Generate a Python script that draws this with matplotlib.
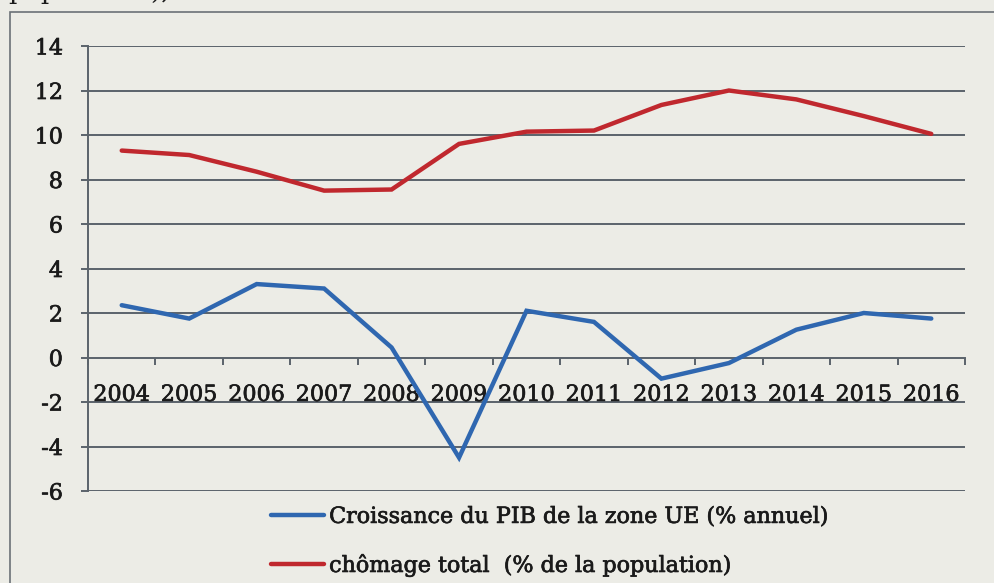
import matplotlib
matplotlib.use('Agg')
import matplotlib.pyplot as plt
import matplotlib.patheffects as pe
from matplotlib.patches import Rectangle

# Data
years = ['2004', '2005', '2006', '2007', '2008', '2009', '2010',
         '2011', '2012', '2013', '2014', '2015', '2016']
pib = [2.35, 1.75, 3.3, 3.1, 0.45, -4.5, 2.1, 1.6, -0.95, -0.25, 1.25, 2.0, 1.75]
chomage = [9.3, 9.1, 8.35, 7.5, 7.55, 9.6, 10.15, 10.2, 11.35, 12.0, 11.6, 10.85, 10.05]
yticks = [-6, -4, -2, 0, 2, 4, 6, 8, 10, 12, 14]

lbl_pib = 'Croissance du PIB de la zone UE (% annuel)'
lbl_cho = 'chômage total  (% de la population)'

bg = '#ecece6'
grid_col = '#5b636b'
txt_col = '#1a1a1a'
blue = '#2f67b0'
red = '#c0282e'

W, H = 994, 583
plt.rcParams['font.family'] = 'DejaVu Serif'
fig = plt.figure(figsize=(W / 100, H / 100), dpi=100, facecolor=bg)
thick = [pe.withStroke(linewidth=0.5, foreground=txt_col)]

# outer chart frame (runs off the page at right/bottom)
fig.patches.append(Rectangle((10 / W, -0.05), 1.1, 1 - 12 / H + 0.05,
                             transform=fig.transFigure, fill=False,
                             edgecolor='#6b7177', linewidth=1.2))
# tail of the caption line above, cut by the scan
fig.text(8 / W, 1 + 1 / H, 'population),', fontsize=19, va='baseline',
         ha='left', color=txt_col)

ax = fig.add_axes([88 / W, 1 - 491 / H, (965 - 88) / W, (491 - 46) / H])
ax.set_facecolor('none')

x = list(range(len(years)))
l1, = ax.plot(x, pib, color=blue, lw=3.2, solid_capstyle='round', solid_joinstyle='miter', zorder=3)
l2, = ax.plot(x, chomage, color=red, lw=3.2, solid_capstyle='round', solid_joinstyle='miter', zorder=3)

ax.set_xlim(-0.5, len(years) - 0.5)
ax.set_ylim(-6, 14)

for v in yticks:
    if v != 0:
        ax.axhline(v, color=grid_col, lw=1.4, zorder=1)

for s in ['top', 'right']:
    ax.spines[s].set_visible(False)
ax.spines['left'].set_color(grid_col)
ax.spines['left'].set_linewidth(1.4)
ax.spines['bottom'].set_position(('data', 0))
ax.spines['bottom'].set_color(grid_col)
ax.spines['bottom'].set_linewidth(1.4)
ax.spines['bottom'].set_zorder(1)

ax.set_yticks(yticks)
ax.set_yticklabels([str(v) for v in yticks])
ax.tick_params(axis='y', length=5, width=1.4, color=grid_col, labelsize=16,
               pad=13, labelcolor=txt_col)

ax.set_xticks(x)
ax.set_xticklabels(years)
ax.set_xticks([i - 0.5 for i in range(len(years) + 1)], minor=True)
ax.tick_params(axis='x', which='major', length=0, labelsize=16, pad=19,
               labelcolor=txt_col)
ax.tick_params(axis='x', which='minor', length=5, width=1.4, color=grid_col, direction='out')

for t in ax.get_xticklabels() + ax.get_yticklabels():
    t.set_path_effects(thick)

leg = fig.legend([l1, l2], [lbl_pib, lbl_cho], loc='upper left',
                 bbox_to_anchor=(262 / W, 1 - 497 / H), frameon=False,
                 fontsize=16, handlelength=2.4, handletextpad=0.22,
                 labelspacing=1.15, borderaxespad=0)
for t in leg.get_texts():
    t.set_color(txt_col)
    t.set_path_effects(thick)

fig.savefig('out.png', dpi=100, facecolor=bg)
